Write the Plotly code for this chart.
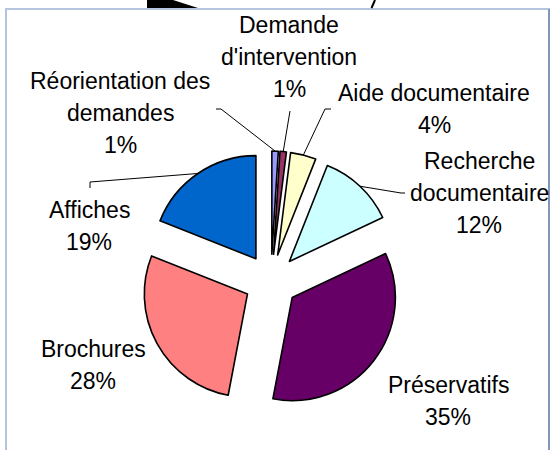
import math
import plotly.graph_objects as go

# data (clockwise from 12 o'clock)
labels = ["Réorientation des demandes", "Demande d'intervention", "Aide documentaire",
          "Recherche documentaire", "Préservatifs", "Brochures", "Affiches"]
values = [1, 1, 4, 12, 35, 28, 19]
colors = ["#9999FF", "#993366", "#FFFFCC", "#CCFFFF", "#660066", "#FF8080", "#0066CC"]

# label text as it is broken on the chart
label_lines = [["Réorientation des", "demandes"], ["Demande", "d'intervention"],
               ["Aide documentaire"], ["Recherche", "documentaire"],
               ["Préservatifs"], ["Brochures"], ["Affiches"]]

W, H = 553, 450
PULL = 0.26
cx, cy, half = 271, 281, 130   # pie box in pixels

def px(x):
    return x / W

def py(y):
    return 1 - y / H

fig = go.Figure(go.Pie(
    labels=labels, values=values, sort=False, direction="clockwise", rotation=0,
    marker=dict(colors=colors, line=dict(color="black", width=1.6)),
    pull=[PULL] * len(values), textinfo="none", hoverinfo="label+percent",
    domain=dict(x=[px(cx - half), px(cx + half)], y=[py(cy + half), py(cy - half)]),
    showlegend=False,
))

# label placement (pixel position of first line, line step)
label_pos = [(120, 81), (289, 25), (434, 93), (479, 161), (448, 385), (93, 349), (89, 210)]
step = 32
total = sum(values)
annotations = []
for lines, (lx, ly), v in zip(label_lines, label_pos, values):
    for i, t in enumerate(lines + [f"{v / total * 100:.0f}%"]):
        annotations.append(dict(
            x=px(lx), y=py(ly + i * step), xref="paper", yref="paper", text=t,
            showarrow=False, xanchor="center", yanchor="middle",
            font=dict(family="Liberation Sans, Arial", size=23, color="black")))

# leader lines: from label anchor to the middle of the slice arc
r = half / (1 + PULL)
leader_from = {0: [(216, 109), (221, 109)], 1: [(290, 111)], 2: [(331, 109), (325, 109)],
               3: [(405, 193), (401, 193)], 6: [(90, 188), (90, 182)]}
shapes = []
start = 0
mids = []
for v in values:
    mids.append((start + v / 2) / total * 2 * math.pi)
    start += v
for idx, pts in leader_from.items():
    a = mids[idx]
    ex = cx + (r * PULL + r) * math.sin(a)
    ey = cy - (r * PULL + r) * math.cos(a)
    path_pts = pts + [(ex, ey)]
    path = "M " + " L ".join(f"{px(x)},{py(y)}" for x, y in path_pts)
    shapes.append(dict(type="path", xref="paper", yref="paper", path=path,
                       line=dict(color="black", width=1)))

# chart frame
shapes += [
    dict(type="line", xref="paper", yref="paper", x0=px(5), x1=px(550), y0=py(9), y1=py(9),
         line=dict(color="#B4C5DD", width=2)),
    dict(type="line", xref="paper", yref="paper", x0=px(6), x1=px(6), y0=py(9), y1=py(452),
         line=dict(color="#B4C5DD", width=2)),
    dict(type="line", xref="paper", yref="paper", x0=px(549), x1=px(549), y0=py(9), y1=py(452),
         line=dict(color="#8196B8", width=2)),
]
# black bits above the frame
shapes += [
    dict(type="path", xref="paper", yref="paper", fillcolor="black", line=dict(width=0),
         path=f"M {px(147)},{py(0)} L {px(173)},{py(0)} L {px(198)},{py(8)} L {px(147)},{py(8)} Z"),
    dict(type="line", xref="paper", yref="paper", x0=px(375), x1=px(371.5), y0=py(0), y1=py(8),
         line=dict(color="black", width=2)),
]

fig.update_layout(
    width=W, height=H, margin=dict(l=0, r=0, t=0, b=0),
    paper_bgcolor="white", plot_bgcolor="white",
    annotations=annotations, shapes=shapes,
)
fig.write_html("out.html", config={"displayModeBar": False},
               post_script="document.body.style.margin='0';")
